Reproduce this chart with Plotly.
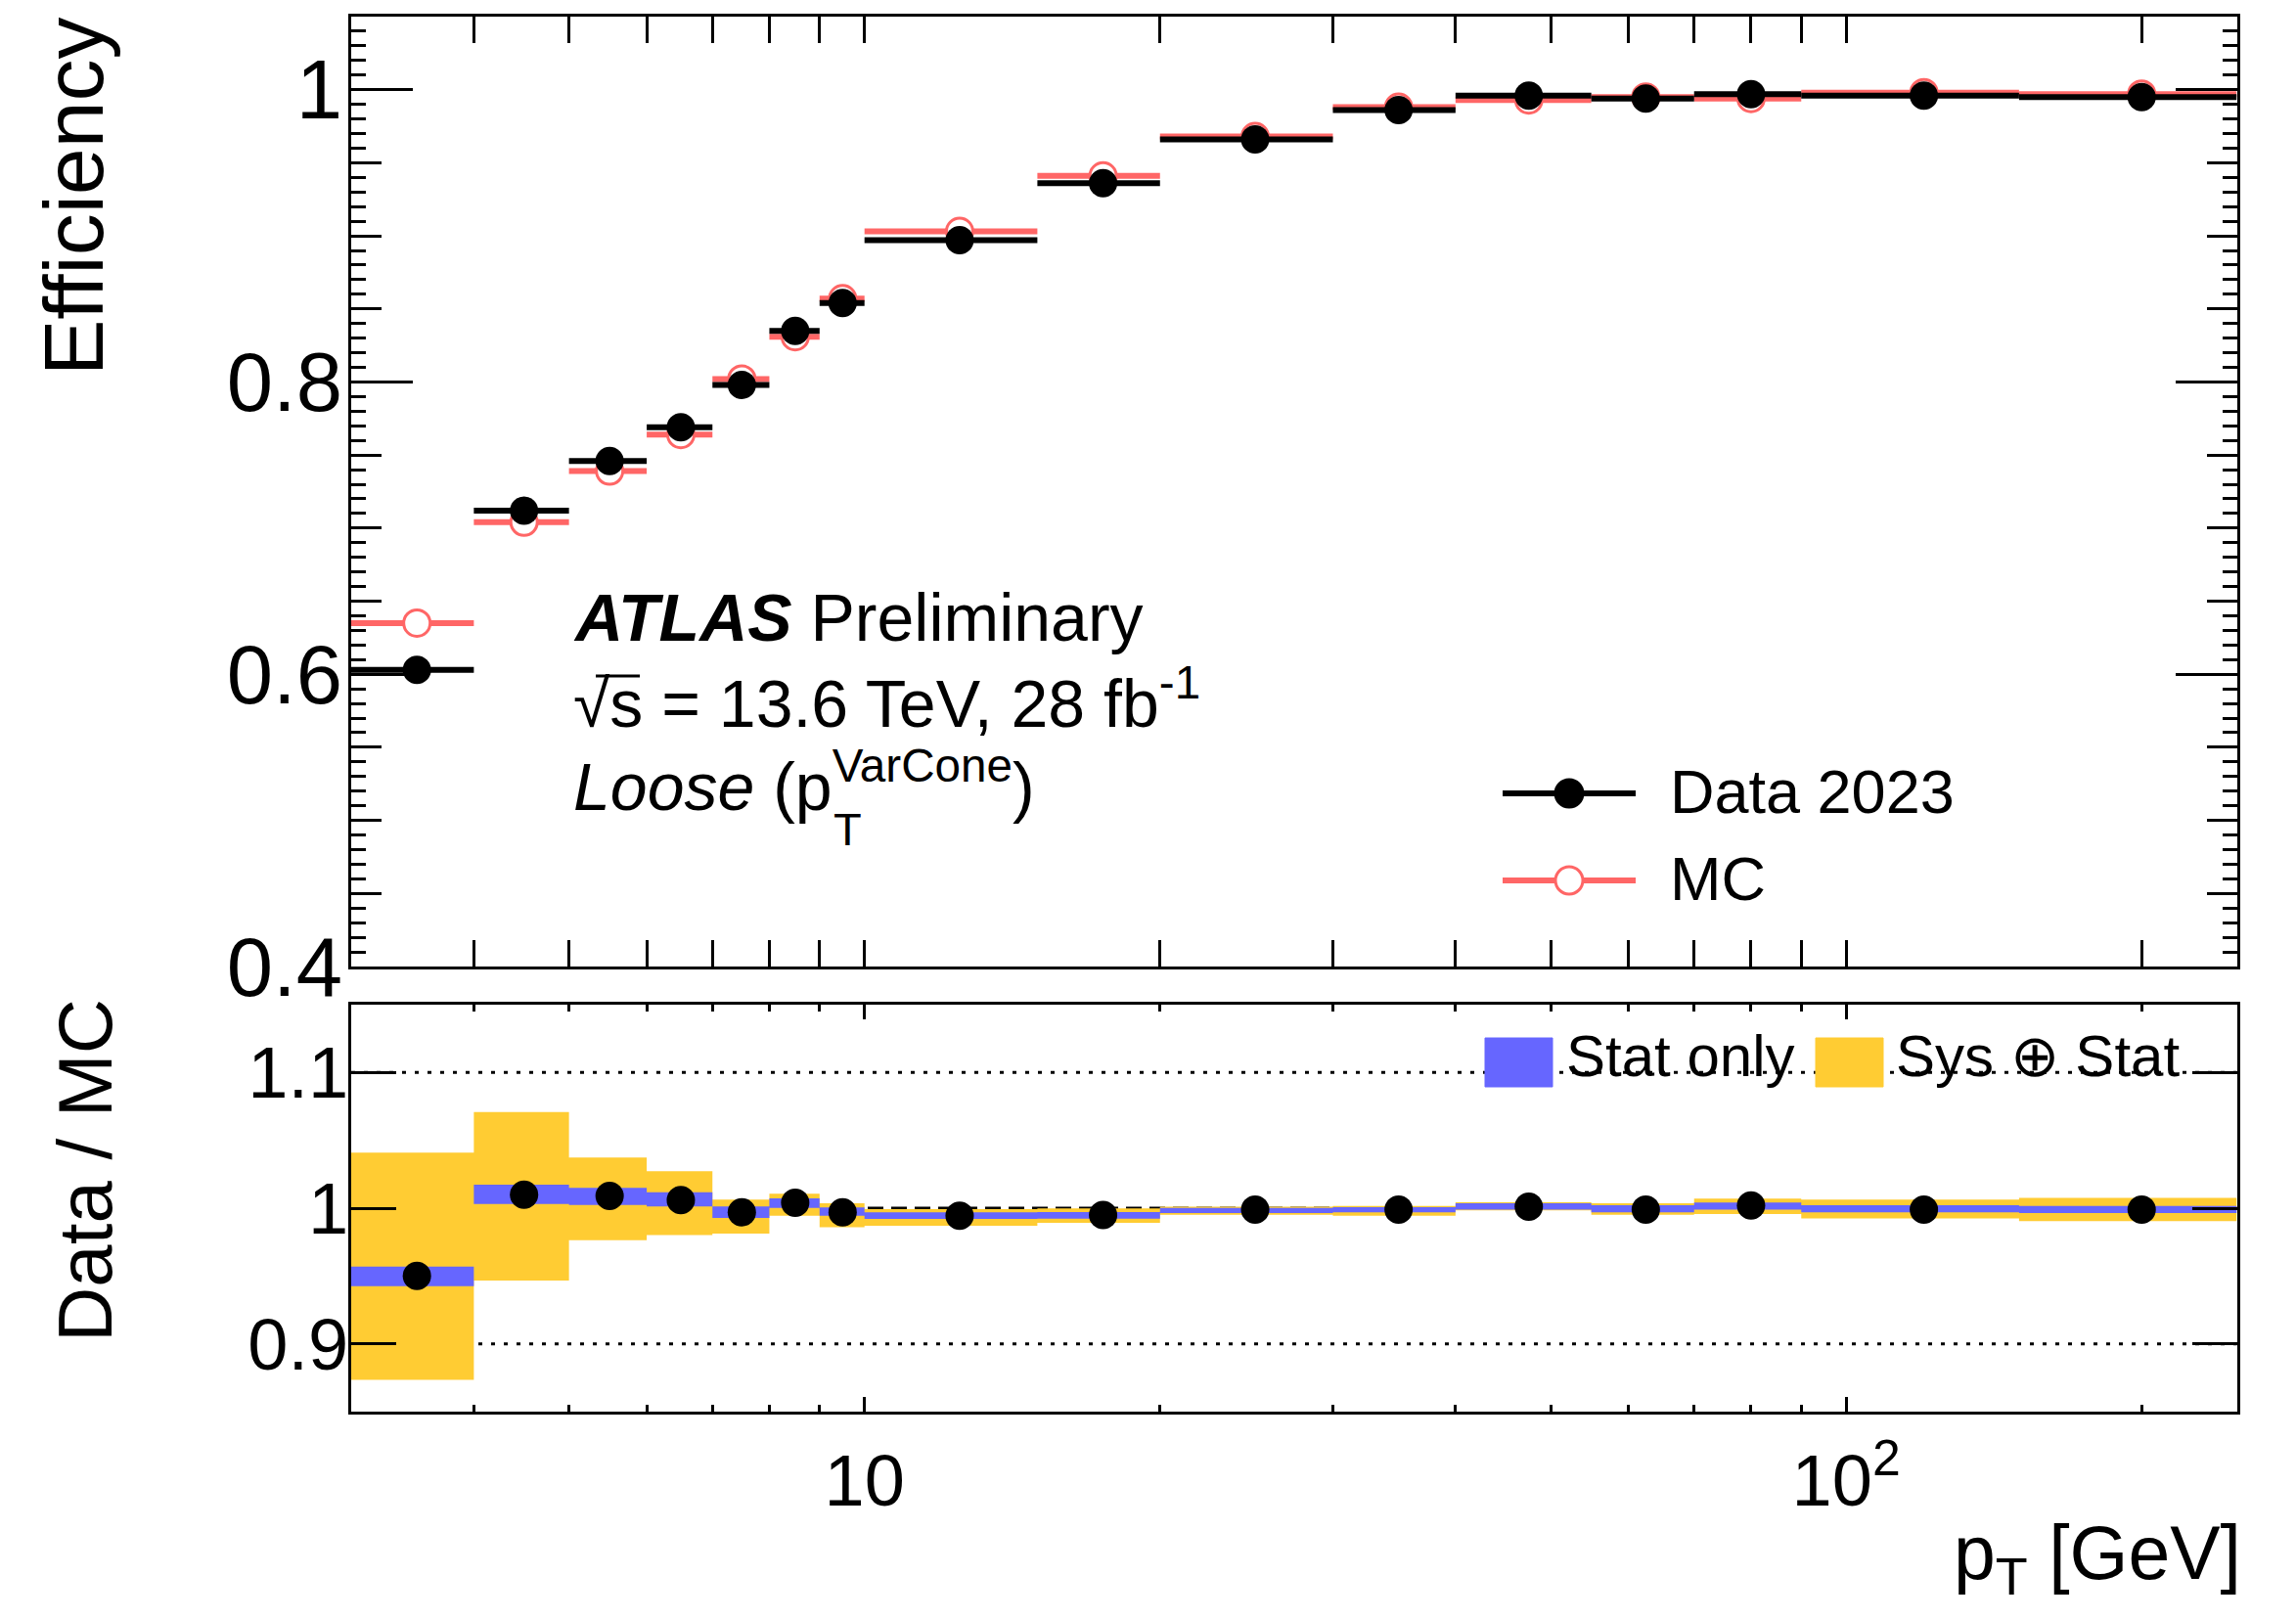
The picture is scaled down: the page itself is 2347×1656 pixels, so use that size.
import numpy as np
import plotly.graph_objects as go

# ---------------- binning and measured values ----------------
bin_edges = [3, 4, 5, 6, 7, 8, 9, 10, 15, 20, 30, 40, 55, 70, 90, 150, 250]

eff_data = [0.603, 0.712, 0.746, 0.769, 0.798, 0.835, 0.854, 0.897,
            0.936, 0.966, 0.986, 0.996, 0.994, 0.997, 0.996, 0.995]
eff_mc = [0.635, 0.704, 0.739, 0.764, 0.802, 0.831, 0.857, 0.903,
          0.941, 0.968, 0.988, 0.993, 0.995, 0.994, 0.998, 0.997]

ratio = [0.950, 1.010, 1.009, 1.006, 0.997, 1.004, 0.997, 0.9945,
         0.995, 0.999, 0.999, 1.001, 0.999, 1.002, 0.999, 0.999]
stat_up = [0.9569, 1.0173, 1.0149, 1.0118, 1.0012, 1.0072, 1.0005, 0.9969,
           0.9971, 1.0002, 1.0007, 1.0036, 1.0022, 1.0041, 1.0022, 1.0017]
stat_dn = [0.9424, 1.0031, 1.0024, 1.0012, 0.9928, 1.0002, 0.9945, 0.9920,
           0.9923, 0.9964, 0.9969, 0.9990, 0.9969, 0.9990, 0.9969, 0.9964]
tot_up = [1.0410, 1.0708, 1.0373, 1.0272, 1.0063, 1.0106, 1.0036, 0.9993,
          0.9998, 1.0010, 1.0017, 1.0043, 1.0036, 1.0070, 1.0063, 1.0075]
tot_dn = [0.8735, 0.9467, 0.9764, 0.9802, 0.9812, 0.9945, 0.9860, 0.9870,
          0.9892, 0.9952, 0.9945, 0.9983, 0.9952, 0.9957, 0.9925, 0.9904]

# axis ticks
x_major = [10, 100]
x_major_text = ["10", "10<sup>2</sup>"]
x_minor = [3, 4, 5, 6, 7, 8, 9, 20, 30, 40, 50, 60, 70, 80, 90, 200]
eff_major = [0.4, 0.6, 0.8, 1.0]
eff_major_text = ["0.4", "0.6", "0.8", "1"]
eff_mid = [round(0.4 + 0.05 * i, 2) for i in range(14)]
ratio_ticks = [0.9, 1.0, 1.1]
ratio_tick_text = ["0.9", "1", "1.1"]
ratio_dotted = [0.9, 1.1]
ratio_dashed = [1.0]

# ---------------- style ----------------
W, H = 2347, 1656
RED = "#FF6666"
BLUE = "#6666FF"
YELLOW = "#FFCC33"
FONT = "Liberation Sans, Arial, Helvetica, sans-serif"

X_LEFT, X_RIGHT = 359, 2286.5
MAIN_TOP, MAIN_BOT = 17, 988
LOW_TOP, LOW_BOT = 1027, 1443


def fx(px):
    return px / W


def fy(py):
    return 1 - py / H


lo = np.array(bin_edges[:-1], dtype=float)
hi = np.array(bin_edges[1:], dtype=float)
ctr = 0.5 * (lo + hi)


def band_xy(dn, up):
    xs, ys = [], []
    for a, b, d, u in zip(lo, hi, dn, up):
        xs += [a, b, b, a, a, None]
        ys += [d, d, u, u, d, None]
    return xs, ys


fig = go.Figure()

# ---- efficiency panel ----
fig.add_trace(go.Scatter(
    x=ctr, y=eff_mc, mode="markers", name="MC", showlegend=False,
    marker=dict(symbol="circle", size=27, color="white",
                line=dict(color=RED, width=3)),
    error_x=dict(type="data", symmetric=False, array=hi - ctr,
                 arrayminus=ctr - lo, color=RED, thickness=6, width=0),
    xaxis="x", yaxis="y"))
fig.add_trace(go.Scatter(
    x=ctr, y=eff_data, mode="markers", name="Data 2023", showlegend=False,
    marker=dict(symbol="circle", size=29, color="black"),
    error_x=dict(type="data", symmetric=False, array=hi - ctr,
                 arrayminus=ctr - lo, color="black", thickness=6, width=0),
    xaxis="x", yaxis="y"))
# carrier for the long-tick/label overlay axis
fig.add_trace(go.Scatter(x=[], y=[], mode="markers", showlegend=False,
                         hoverinfo="skip", xaxis="x", yaxis="y3"))

# ---- ratio panel ----
bx, by = band_xy(tot_dn, tot_up)
fig.add_trace(go.Scatter(x=bx, y=by, mode="lines", fill="toself",
                         fillcolor=YELLOW, line=dict(width=0),
                         showlegend=False, hoverinfo="skip",
                         xaxis="x2", yaxis="y2"))
sx, sy = band_xy(stat_dn, stat_up)
fig.add_trace(go.Scatter(x=sx, y=sy, mode="lines", fill="toself",
                         fillcolor=BLUE, line=dict(width=0),
                         showlegend=False, hoverinfo="skip",
                         xaxis="x2", yaxis="y2"))
fig.add_trace(go.Scatter(x=ctr, y=ratio, mode="markers", showlegend=False,
                         marker=dict(symbol="circle", size=29, color="black"),
                         xaxis="x2", yaxis="y2"))

axis_common = dict(showgrid=False, zeroline=False, showline=True,
                   linecolor="black", linewidth=3, ticks="inside",
                   tickcolor="black", tickwidth=3, mirror="allticks",
                   automargin=False)
minor_common = dict(ticks="inside", tickcolor="black", tickwidth=3,
                    showgrid=False)
xrange = [np.log10(bin_edges[0]), np.log10(bin_edges[-1])]

layout_axes = dict(
    xaxis=dict(**axis_common, domain=[fx(X_LEFT), fx(X_RIGHT)], anchor="y",
               type="log", range=xrange, tickmode="array", tickvals=x_major,
               ticklen=27, showticklabels=False,
               minor=dict(**minor_common, tickmode="array",
                          tickvals=x_minor, ticklen=13)),
    yaxis=dict(**axis_common, domain=[fy(MAIN_BOT), fy(MAIN_TOP)],
               anchor="x", range=[0.4, 1.05], tickmode="array",
               tickvals=eff_mid, ticklen=31, showticklabels=False,
               minor=dict(**minor_common, tickmode="linear", tick0=0.4,
                          dtick=0.01, ticklen=15)),
    yaxis3=dict(**axis_common, overlaying="y", anchor="x", side="left",
                range=[0.4, 1.05], tickmode="array", tickvals=eff_major,
                ticktext=eff_major_text, ticklen=63,
                tickfont=dict(family=FONT, size=85, color="black"),
                ticklabelstandoff=-11),
    xaxis2=dict(**axis_common, domain=[fx(X_LEFT), fx(X_RIGHT)],
                anchor="y2", type="log", range=xrange, tickmode="array",
                tickvals=x_major, ticktext=x_major_text, ticklen=15,
                tickfont=dict(family=FONT, size=74, color="black"),
                ticklabelstandoff=4,
                minor=dict(**minor_common, tickmode="array",
                           tickvals=x_minor, ticklen=7)),
    yaxis2=dict(**axis_common, domain=[fy(LOW_BOT), fy(LOW_TOP)],
                anchor="x2", range=[0.85, 1.15], tickmode="array",
                tickvals=ratio_ticks, ticktext=ratio_tick_text, ticklen=46,
                tickfont=dict(family=FONT, size=74, color="black"),
                ticklabelstandoff=-15),
)

shapes = []
# reference lines in the ratio panel
for v in ratio_dotted:
    shapes.append(dict(type="line", xref="x2 domain", yref="y2", x0=0, x1=1,
                       y0=v, y1=v, layer="below",
                       line=dict(color="black", width=3, dash="4px,9px")))
for v in ratio_dashed:
    shapes.append(dict(type="line", xref="x2 domain", yref="y2", x0=0, x1=1,
                       y0=v, y1=v, layer="below",
                       line=dict(color="black", width=3, dash="16px,8px")))

# legend glyphs: efficiency panel
leg_rows = [("Data 2023", 811, "black", "black"), ("MC", 900, RED, "white")]
annotations = []
for label, yrow, col, fill in leg_rows:
    shapes.append(dict(type="line", xref="paper", yref="paper",
                       x0=fx(1536), x1=fx(1672), y0=fy(yrow), y1=fy(yrow),
                       line=dict(color=col, width=6)))
    shapes.append(dict(type="circle", xref="paper", yref="paper",
                       xsizemode="pixel", ysizemode="pixel",
                       xanchor=fx(1604), yanchor=fy(yrow),
                       x0=-14, x1=14, y0=-14, y1=14,
                       fillcolor=fill,
                       line=dict(color=col, width=3)))
    annotations.append(dict(text=label, xref="paper", yref="paper",
                            x=fx(1705), y=fy(yrow - 2), xanchor="left",
                            yanchor="middle", showarrow=False,
                            font=dict(family=FONT, size=63, color="black")))

# legend glyphs: ratio panel
for x0, x1, col in [(1518, 1587, BLUE), (1856, 1925, YELLOW)]:
    shapes.append(dict(type="rect", xref="paper", yref="paper",
                       x0=fx(x0), x1=fx(x1), y0=fy(1111), y1=fy(1061),
                       fillcolor=col, line=dict(color=col, width=1)))
annotations.append(dict(text="Stat only", xref="paper", yref="paper",
                        x=fx(1599), y=fy(1079), xanchor="left",
                        yanchor="middle", showarrow=False,
                        font=dict(family=FONT, size=60, color="black")))
annotations.append(dict(text="Sys ⊕ Stat", xref="paper", yref="paper",
                        x=fx(1936), y=fy(1079), xanchor="left",
                        yanchor="middle", showarrow=False,
                        font=dict(family=FONT, size=60, color="black")))

# ATLAS label block
TXT = 68
annotations += [
    dict(text="<b><i>ATLAS</i></b> Preliminary", x=fx(584), y=fy(671),
         xanchor="left", yanchor="bottom"),
    dict(text="√s = 13.6 TeV, 28 fb<sup>-1</sup>", x=fx(584), y=fy(759),
         xanchor="left", yanchor="bottom"),
    dict(text="<i>Loose</i> (p<sup>VarCone</sup>)", x=fx(584), y=fy(844),
         xanchor="left", yanchor="bottom"),
]
for a in annotations[-3:]:
    a.update(xref="paper", yref="paper", showarrow=False,
             font=dict(family=FONT, size=TXT, color="black"))
annotations.append(dict(text="T", xref="paper", yref="paper", x=fx(850),
                        y=fy(876), xanchor="left", yanchor="bottom",
                        showarrow=False,
                        font=dict(family=FONT, size=47, color="black")))
# bar of the square-root sign over "s"
shapes.append(dict(type="line", xref="paper", yref="paper",
                   x0=fx(609), x1=fx(654), y0=fy(691), y1=fy(691),
                   line=dict(color="black", width=3)))

# axis titles
annotations += [
    dict(text="Efficiency", xref="paper", yref="paper", x=fx(75), y=fy(201),
         xanchor="center", yanchor="middle", textangle=-90, showarrow=False,
         font=dict(family=FONT, size=86, color="black")),
    dict(text="Data / MC", xref="paper", yref="paper", x=fx(87), y=fy(1197),
         xanchor="center", yanchor="middle", textangle=-90, showarrow=False,
         font=dict(family=FONT, size=78, color="black")),
    dict(text="p<sub>T</sub> [GeV]", xref="paper", yref="paper",
         x=fx(2293), y=fy(1542), xanchor="right", yanchor="top",
         showarrow=False, font=dict(family=FONT, size=77, color="black")),
]

fig.update_layout(
    width=W, height=H, margin=dict(l=0, r=0, t=0, b=0, pad=0),
    autosize=False,
    paper_bgcolor="white", plot_bgcolor="white",
    font=dict(family=FONT, color="black"),
    showlegend=False, shapes=shapes, annotations=annotations,
    **layout_axes)

fig.write_html("out.html")
